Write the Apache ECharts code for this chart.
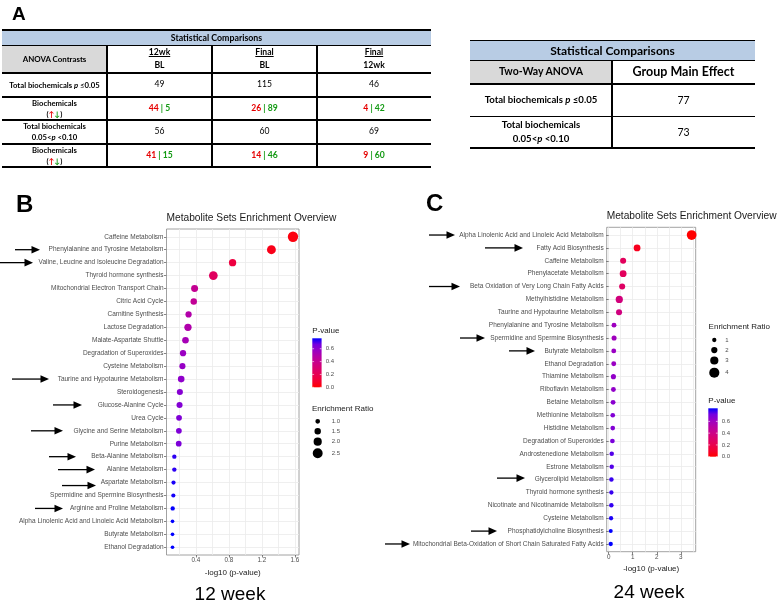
<!DOCTYPE html>
<html>
<head>
<meta charset="utf-8">
<script src="https://cdn.jsdelivr.net/npm/echarts@6.0.0/dist/echarts.min.js"></script>
<style>
html,body{margin:0;padding:0;background:#fff;}
body{width:778px;height:603px;position:relative;overflow:hidden;}
#chart{position:absolute;left:0;top:0;width:778px;height:603px;}
#tables{position:absolute;left:0;top:0;width:778px;height:200px;z-index:2;pointer-events:none;}
.c{position:absolute;display:flex;flex-direction:column;align-items:center;justify-content:center;text-align:center;font-family:Lato,'Open Sans',sans-serif;font-weight:bold;color:#000;line-height:1.3;box-sizing:border-box;white-space:nowrap;}
.c > div{display:block;}
.ln{position:absolute;background:#000;}
.r{color:#e60000;} .g{color:#139a13;}
</style>
</head>
<body>
<div id="chart"></div>
<div id="tables"></div>
<script>
// ---------------- Panel A data ----------------
const contrastTop = ['12wk', 'Final', 'Final'];
const contrastBottom = ['BL', 'BL', '12wk'];
const totalP005 = [49, 115, 46];
const upP005 = [44, 26, 4];
const downP005 = [5, 89, 42];
const totalP010 = [56, 60, 69];
const upP010 = [41, 14, 9];
const downP010 = [15, 46, 60];
const groupMainEffect = [77, 73];

// ---------------- Panel B data (12 week) ----------------
const pathwaysB = [
  'Caffeine Metabolism', 'Phenylalanine and Tyrosine Metabolism', 'Valine, Leucine and Isoleucine Degradation',
  'Thyroid hormone synthesis', 'Mitochondrial Electron Transport Chain', 'Citric Acid Cycle', 'Carnitine Synthesis',
  'Lactose Degradation', 'Malate-Aspartate Shuttle', 'Degradation of Superoxides', 'Cysteine Metabolism',
  'Taurine and Hypotaurine Metabolism', 'Steroidogenesis', 'Glucose-Alanine Cycle', 'Urea Cycle',
  'Glycine and Serine Metabolism', 'Purine Metabolism', 'Beta-Alanine Metabolism', 'Alanine Metabolism',
  'Aspartate Metabolism', 'Spermidine and Spermine Biosynthesis', 'Arginine and Proline Metabolism',
  'Alpha Linolenic Acid and Linoleic Acid Metabolism', 'Butyrate Metabolism', 'Ethanol Degradation'
];
const log10pB = [1.576, 1.315, 0.845, 0.612, 0.385, 0.375, 0.312, 0.305, 0.275, 0.245, 0.238, 0.223, 0.207,
  0.203, 0.197, 0.195, 0.193, 0.140, 0.140, 0.130, 0.128, 0.120, 0.118, 0.118, 0.118];
const ratioB = [2.6, 2.2, 1.75, 2.15, 1.65, 1.5, 1.45, 1.75, 1.55, 1.45, 1.4, 1.55, 1.4, 1.4, 1.3, 1.3, 1.3,
  0.9, 0.9, 0.85, 0.85, 0.9, 0.7, 0.7, 0.7];

// ---------------- Panel C data (24 week) ----------------
const pathwaysC = [
  'Alpha Linolenic Acid and Linoleic Acid Metabolism', 'Fatty Acid Biosynthesis', 'Caffeine Metabolism',
  'Phenylacetate Metabolism', 'Beta Oxidation of Very Long Chain Fatty Acids', 'Methylhistidine Metabolism',
  'Taurine and Hypotaurine Metabolism', 'Phenylalanine and Tyrosine Metabolism', 'Spermidine and Spermine Biosynthesis',
  'Butyrate Metabolism', 'Ethanol Degradation', 'Thiamine Metabolism', 'Riboflavin Metabolism', 'Betaine Metabolism',
  'Methionine Metabolism', 'Histidine Metabolism', 'Degradation of Superoxides', 'Androstenedione Metabolism',
  'Estrone Metabolism', 'Glycerolipid Metabolism', 'Thyroid hormone synthesis', 'Nicotinate and Nicotinamide Metabolism',
  'Cysteine Metabolism', 'Phosphatidylcholine Biosynthesis',
  'Mitochondrial Beta-Oxidation of Short Chain Saturated Fatty Acids'
];
const log10pC = [3.45, 1.18, 0.60, 0.60, 0.56, 0.44, 0.43, 0.22, 0.224, 0.21, 0.21, 0.196, 0.196, 0.182, 0.168,
  0.168, 0.154, 0.126, 0.126, 0.112, 0.112, 0.110, 0.098, 0.085, 0.085];
const ratioC = [3.8, 2.3, 1.9, 2.3, 1.9, 2.5, 1.9, 1.3, 1.4, 1.3, 1.3, 1.4, 1.3, 1.3, 1.2, 1.2, 1.2, 1.1, 1.1,
  1.1, 1.0, 1.1, 1.0, 0.85, 1.0];

// legend breaks
const ratioBreaksB = [1.0, 1.5, 2.0, 2.5];
const ratioBreaksC = [1, 2, 3, 4];
const pBreaks = [0.0, 0.2, 0.4, 0.6];

// ================= Tables (panel A) =================
const T = document.getElementById('tables');
function cell(x0, y0, x1, y1, html, css) {
  const d = document.createElement('div');
  d.className = 'c';
  d.style.left = x0 + 'px'; d.style.top = y0 + 'px';
  d.style.width = (x1 - x0) + 'px'; d.style.height = (y1 - y0) + 'px';
  if (css) d.style.cssText += css;
  d.innerHTML = html;
  T.appendChild(d);
}
function hline(x0, x1, y, w) {
  const d = document.createElement('div'); d.className = 'ln';
  d.style.cssText += `left:${x0}px;top:${y - w / 2}px;width:${x1 - x0}px;height:${w}px;`;
  T.appendChild(d);
}
function vline(x, y0, y1, w) {
  const d = document.createElement('div'); d.className = 'ln';
  d.style.cssText += `left:${x - w / 2}px;top:${y0}px;width:${w}px;height:${y1 - y0}px;`;
  T.appendChild(d);
}
const P = '<i>p</i>';
const arrowsUD = '(<span class="r">&#8593;</span><span class="g">&#8595;</span>)';
const wrap = h => `<div>${h}</div>`;
(function leftTable() {
  const cx = [2, 107, 212, 317, 431];
  const ry = [45, 73, 97, 120, 144, 167];
  cell(2, 30, 431, 45, wrap('Statistical Comparisons'), 'background:#b8cce4;font-size:8.8px;');
  cell(2, 45, 107, 73, wrap('ANOVA Contrasts'), 'background:#d9d9d9;font-size:7.9px;');
  for (let j = 0; j < 3; j++) {
    cell(cx[j + 1], 45, cx[j + 2], 73,
      `<div style="text-decoration:underline">${contrastTop[j]}</div><div style="margin-top:3px">${contrastBottom[j]}</div>`,
      'font-size:8.6px;line-height:1.1;');
  }
  const labels = [`Total biochemicals ${P} &le;0.05`, `Biochemicals<br>${arrowsUD}`,
    `Total biochemicals<br>0.05&lt;${P} &lt;0.10`, `Biochemicals<br>${arrowsUD}`];
  labels.forEach((h, i) => cell(cx[0], ry[i + 1], cx[1], ry[i + 2], wrap(h), 'font-size:7.7px;line-height:1.4;'));
  for (let j = 0; j < 3; j++) {
    cell(cx[j + 1], ry[1], cx[j + 2], ry[2], wrap(String(totalP005[j])), 'font-weight:normal;font-size:8.6px;');
    cell(cx[j + 1], ry[2], cx[j + 2], ry[3], wrap(`<span class="r">${upP005[j]}</span><span class="g"> | ${downP005[j]}</span>`), 'font-size:8.6px;');
    cell(cx[j + 1], ry[3], cx[j + 2], ry[4], wrap(String(totalP010[j])), 'font-weight:normal;font-size:8.6px;');
    cell(cx[j + 1], ry[4], cx[j + 2], ry[5], wrap(`<span class="r">${upP010[j]}</span><span class="g"> | ${downP010[j]}</span>`), 'font-size:8.6px;');
  }
  hline(2, 431, 29.5, 2);
  hline(2, 431, 45, 1);
  hline(2, 431, 73, 2);
  [97, 120, 144].forEach(y => hline(2, 431, y, 1.3));
  hline(2, 431, 167, 2);
  [107, 212, 317].forEach(x => vline(x, 45, 167, 1.8));
})();
(function rightTable() {
  cell(470, 41, 755, 60, wrap('Statistical Comparisons'), 'background:#b8cce4;font-size:12px;');
  cell(470, 60, 612, 84, wrap('Two-Way ANOVA'), 'background:#d9d9d9;font-size:10.5px;');
  cell(612, 60, 755, 84, wrap('Group Main Effect'), 'font-size:12.5px;');
  cell(470, 84, 612, 116.7, wrap(`Total biochemicals ${P} &le;0.05`), 'font-size:9.6px;');
  cell(612, 84, 755, 116.7, wrap(String(groupMainEffect[0])), 'font-weight:normal;font-size:10.5px;');
  cell(470, 116.7, 612, 148, wrap(`Total biochemicals<br>0.05&lt;${P} &lt;0.10`), 'font-size:9.6px;line-height:1.45;');
  cell(612, 116.7, 755, 148, wrap(String(groupMainEffect[1])), 'font-weight:normal;font-size:10.5px;');
  hline(470, 755, 40.5, 1.6);
  hline(470, 755, 60, 1);
  hline(470, 755, 84, 2);
  hline(470, 755, 116.7, 1.3);
  hline(470, 755, 148, 2);
  vline(612, 60, 148, 2);
})();

// ================= Charts (panels B, C) =================
const FONT = "'Liberation Sans', Arial, sans-serif";
const STOPS = ['#FF0000', '#F40031', '#E8004F', '#DA006C', '#CA0089', '#B500A5', '#9A00C3', '#7300E0', '#0000FF'];
const sizeB = r => Math.max(2.5, 4.7 + 3.5 * (r - 1));
const sizeC = r => Math.max(2.5, 4.3 + 1.95 * (r - 1));

function ext(a) {
  const lo = Math.min(...a), hi = Math.max(...a), p = 0.05 * (hi - lo);
  return [lo - p, hi + p];
}

const panels = [
  { names: pathwaysB, x: log10pB, r: ratioB, size: sizeB,
    grid: { left: 166.5, top: 229, width: 132.5, height: 326 },
    majors: [0.4, 0.8, 1.2, 1.6], lines: [0.2, 0.4, 0.6, 0.8, 1.0, 1.2, 1.4, 1.6],
    fmt: v => v.toFixed(1), nameGap: 12, titleTop: 213.5 },
  { names: pathwaysC, x: log10pC, r: ratioC, size: sizeC,
    grid: { left: 606.7, top: 227.3, width: 89, height: 324.4 },
    majors: [0, 1, 2, 3], lines: [0, 0.5, 1, 1.5, 2, 2.5, 3, 3.5],
    fmt: v => String(Math.round(v)), nameGap: 10, titleTop: 211 }
];

const option = {
  animation: false,
  backgroundColor: '#fff',
  textStyle: { fontFamily: FONT },
  title: panels.map(p => ({
    text: 'Metabolite Sets Enrichment Overview', left: p.grid.left, top: p.titleTop, padding: 0,
    textStyle: { fontSize: 10.2, fontWeight: 'normal', color: '#1a1a1a', fontFamily: FONT }
  })),
  grid: panels.map(p => Object.assign({}, p.grid, {
    show: true, borderColor: '#8a8a8a', borderWidth: 0.8, backgroundColor: '#fff',
    containLabel: false, outerBoundsMode: 'none'
  })),
  xAxis: [], yAxis: [], series: [], visualMap: []
};

panels.forEach((p, g) => {
  const [lo, hi] = ext(p.x);
  option.xAxis.push({
    gridIndex: g, type: 'value', min: lo, max: hi,
    axisLine: { show: false },
    axisTick: { show: false, customValues: p.lines },
    axisLabel: { show: false },
    splitLine: { show: true, lineStyle: { color: '#ebebeb', width: 0.8 } }
  });
  option.xAxis.push({
    gridIndex: g, type: 'value', min: lo, max: hi, position: 'bottom',
    axisLine: { show: false },
    axisTick: { show: true, length: 2.5, customValues: p.majors, lineStyle: { color: '#333', width: 0.6 } },
    axisLabel: { customValues: p.majors, formatter: p.fmt, fontSize: 6.3, color: '#4d4d4d', margin: 2.5, fontFamily: FONT },
    splitLine: { show: false },
    name: '-log10 (p-value)', nameLocation: 'middle', nameGap: p.nameGap,
    nameTextStyle: { fontSize: 8, color: '#1a1a1a', fontFamily: FONT }
  });
  const rows = p.names.map((_, i) => i + 1);
  option.yAxis.push({
    gridIndex: g, type: 'value', min: 0.4, max: p.names.length + 0.6, inverse: true,
    axisLine: { show: false },
    axisTick: { show: true, length: 2.5, customValues: rows, lineStyle: { color: '#333', width: 0.6 } },
    axisLabel: { customValues: rows, formatter: v => p.names[Math.round(v) - 1] || '', fontSize: 6.5, color: '#4d4d4d', margin: 3, fontFamily: FONT },
    splitLine: { show: true, lineStyle: { color: '#ebebeb', width: 0.8 } }
  });
  const data = p.x.map((x, i) => [x, i + 1, p.r[i], Math.pow(10, -x)]);
  option.series.push({
    type: 'scatter', xAxisIndex: 2 * g, yAxisIndex: g, data,
    symbolSize: d => p.size(d[2]), itemStyle: { opacity: 1 }, emphasis: { disabled: true }, z: 5
  });
  option.visualMap.push({
    type: 'continuous', show: false, seriesIndex: g, dimension: 3, min: 0,
    max: Math.max(...data.map(d => d[3])), inRange: { color: STOPS }
  });
});

const chart = echarts.init(document.getElementById('chart'), null, { renderer: 'canvas' });
chart.setOption(option);

// ---------- annotations: legends, arrows, labels ----------
const G = [];
function txt(x, y, s, font, align, fill) {
  G.push({ type: 'text', x, y, z: 20,
    style: { text: s, font, fill: fill || '#000', align: align || 'left', verticalAlign: 'middle' } });
}
txt(12, 15, 'A', "bold 19px 'Liberation Sans', Arial");
txt(16, 205.5, 'B', "bold 24px 'Liberation Sans', Arial");
txt(426, 204, 'C', "bold 24px 'Liberation Sans', Arial");
txt(230, 595, '12 week', "19px 'Liberation Sans', Arial", 'center');
txt(649, 593, '24 week', "19px 'Liberation Sans', Arial", 'center');

function gradient() {
  return new echarts.graphic.LinearGradient(0, 1, 0, 0,
    STOPS.map((c, i) => ({ offset: i / (STOPS.length - 1), color: c })));
}
function colorbar(x, yTop, w, h, maxP, labX, titleY) {
  txt(x, titleY, 'P-value', "8px 'Liberation Sans', Arial", 'left', '#1a1a1a');
  G.push({ type: 'rect', z: 20, shape: { x, y: yTop, width: w, height: h }, style: { fill: gradient() } });
  pBreaks.forEach(b => {
    const y = yTop + h - b / maxP * h;
    G.push({ type: 'line', z: 21, shape: { x1: x, y1: y, x2: x + 1.8, y2: y }, style: { stroke: '#fff', lineWidth: 0.6 } });
    G.push({ type: 'line', z: 21, shape: { x1: x + w - 1.8, y1: y, x2: x + w, y2: y }, style: { stroke: '#fff', lineWidth: 0.6 } });
    txt(labX, y, b.toFixed(1), "6px 'Liberation Sans', Arial", 'left', '#4d4d4d');
  });
}
function sizeLegend(x, titleY, ys, breaks, sizeFn, labX, fmt) {
  txt(x - 5.7, titleY, 'Enrichment Ratio', "8px 'Liberation Sans', Arial", 'left', '#1a1a1a');
  breaks.forEach((b, i) => {
    G.push({ type: 'circle', z: 20, shape: { cx: x, cy: ys[i], r: sizeFn(b) / 2 }, style: { fill: '#000' } });
    txt(labX, ys[i], fmt(b), "6px 'Liberation Sans', Arial", 'left', '#4d4d4d');
  });
}
const maxPB = Math.max(...log10pB.map(v => Math.pow(10, -v)));
const maxPC = Math.max(...log10pC.map(v => Math.pow(10, -v)));
colorbar(312.3, 338.3, 9.3, 49, maxPB, 325.7, 330.5);
sizeLegend(317.7, 409, [421.3, 431.3, 441.7, 453.3], ratioBreaksB, sizeB, 331.7, b => b.toFixed(1));
sizeLegend(714.3, 327, [340, 350, 360.5, 372.7], ratioBreaksC, sizeC, 725.3, b => String(b));
colorbar(708.3, 408.3, 9.4, 48.4, maxPC, 721.7, 400.5);

// arrows pointing at highlighted pathways
const arrowsB = [{ row: 1, x1: 15, x2: 40 }, { row: 2, x1: 0, x2: 33 }, { row: 11, x1: 12, x2: 49 },
  { row: 13, x1: 53, x2: 82 }, { row: 15, x1: 31, x2: 63 }, { row: 17, x1: 49, x2: 76 },
  { row: 18, x1: 58, x2: 95 }, { row: 19, x1: 62, x2: 96, dy: 3 }, { row: 21, x1: 35, x2: 63 }];
const arrowsC = [{ row: 0, x1: 429, x2: 455 }, { row: 1, x1: 485, x2: 523 }, { row: 4, x1: 429, x2: 460 },
  { row: 8, x1: 460, x2: 485 }, { row: 9, x1: 509, x2: 535 }, { row: 19, x1: 497, x2: 525, dy: -1.5 },
  { row: 23, x1: 471, x2: 497 }, { row: 24, x1: 385, x2: 410 }];
function arrows(list, g) {
  list.forEach(a => {
    const y = chart.convertToPixel({ yAxisIndex: g }, a.row + 1) + (a.dy || 0);
    G.push({ type: 'line', z: 20, shape: { x1: a.x1, y1: y, x2: a.x2 - 6, y2: y }, style: { stroke: '#000', lineWidth: 1.3 } });
    G.push({ type: 'polygon', z: 20, shape: { points: [[a.x2, y], [a.x2 - 8.5, y - 3.8], [a.x2 - 8.5, y + 3.8]] }, style: { fill: '#000' } });
  });
}
arrows(arrowsB, 0);
arrows(arrowsC, 1);

chart.setOption({ graphic: G });
</script>
</body>
</html>
